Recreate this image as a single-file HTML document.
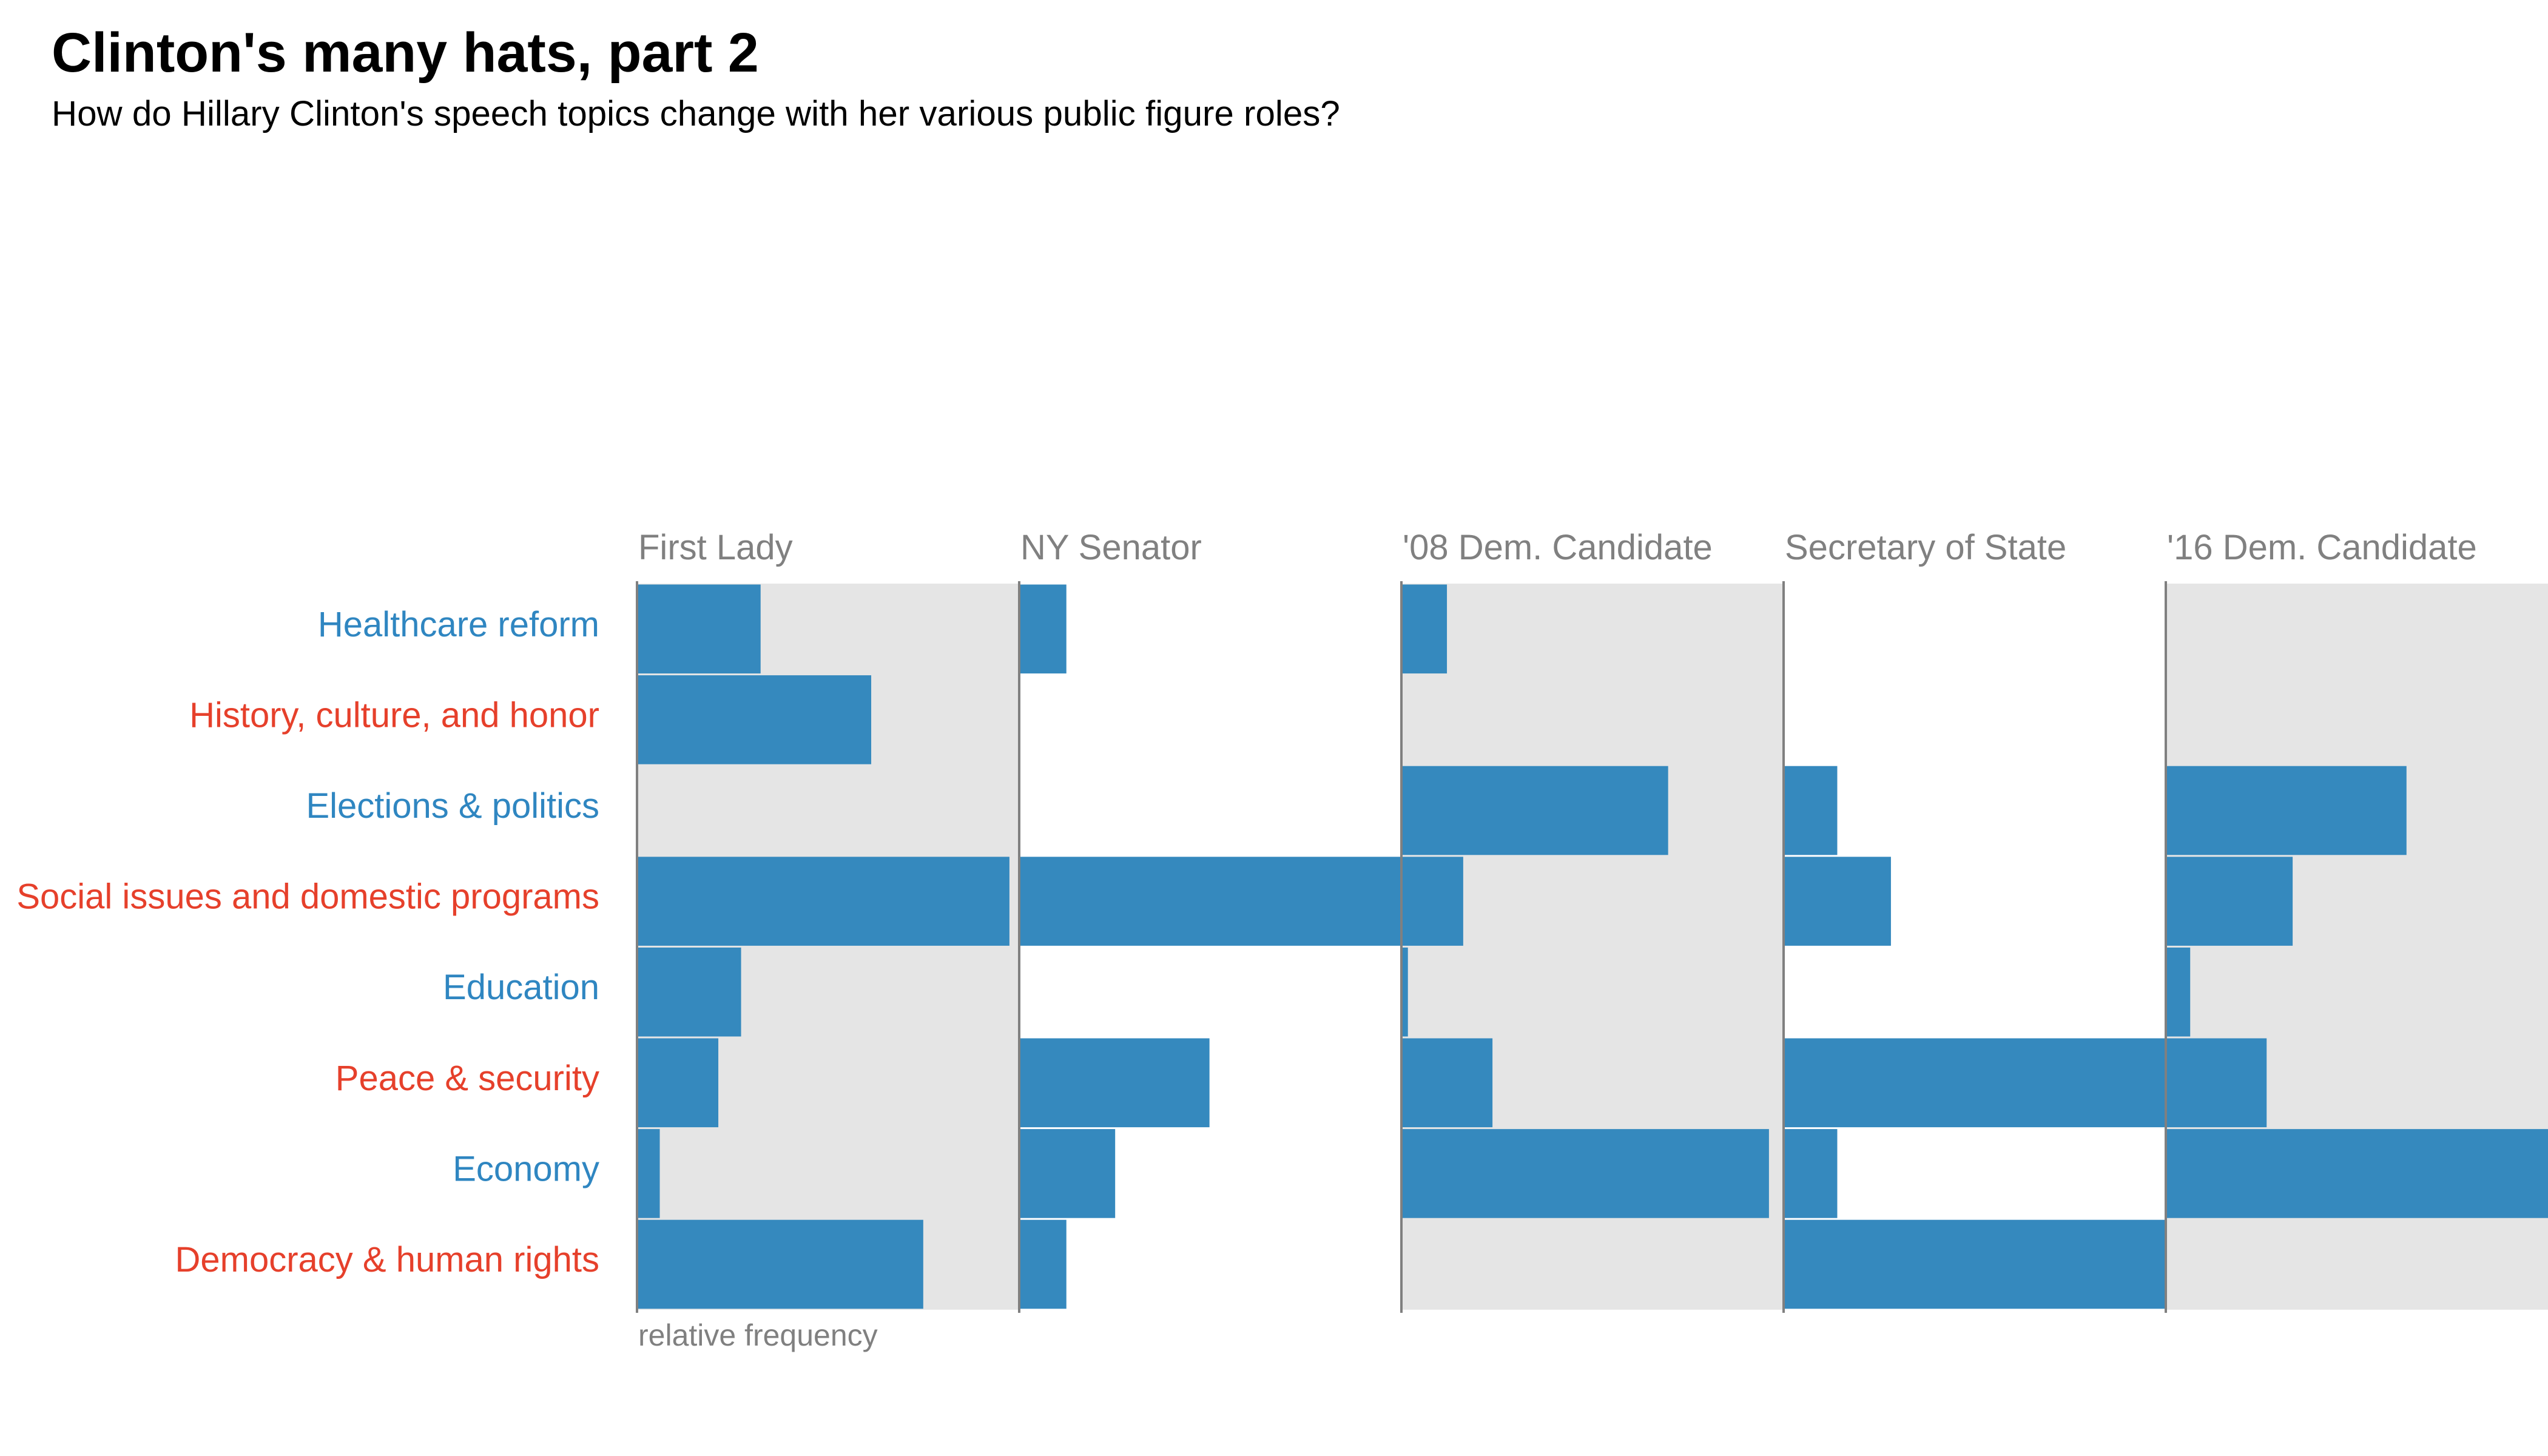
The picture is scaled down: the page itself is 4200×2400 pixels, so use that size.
<!DOCTYPE html>
<html><head><meta charset="utf-8">
<style>
html,body{margin:0;padding:0;background:#fff;}
svg{display:block;font-family:"Liberation Sans",sans-serif;}
</style></head>
<body>
<svg id="chart" width="4200" height="2400" viewBox="0 0 4200 2400" xmlns="http://www.w3.org/2000/svg">
<text x="85" y="118" font-size="91.5" font-weight="bold" fill="#000">Clinton's many hats, part 2</text>
<text x="85" y="207" font-size="58.3" fill="#000">How do Hillary Clinton's speech topics change with her various public figure roles?</text>
<g id="panels"></g>
<text x="1052" y="2218" font-size="50" fill="#808080">relative frequency</text>
</svg>
<script>
const roles = ["First Lady","NY Senator","'08 Dem. Candidate","Secretary of State","'16 Dem. Candidate"];
const topics = ["Healthcare reform","History, culture, and honor","Elections & politics","Social issues and domestic programs","Education","Peace & security","Economy","Democracy & human rights"];
const topicColors = ["#2f86c1","#e6402b","#2f86c1","#e6402b","#2f86c1","#e6402b","#2f86c1","#e6402b"];
const firstLady = [76,144,0,229,64,50,14,176];
const nySenator = [29,0,0,235,0,117,59,29];
const cand08 = [28,0,164,38,4,56,226,0];
const secState = [0,0,33,66,0,235,33,235];
const cand16 = [0,0,148,78,15,62,235,0];
const series = [firstLady,nySenator,cand08,secState,cand16];
const maxVal = 235;

const NS="http://www.w3.org/2000/svg";
const panelsG=document.getElementById('panels');
const plotLeft=1050, panelW=630, plotTop=962, rowH=149.6;
function xScale(p,v){return plotLeft+p*panelW+(v/maxVal)*panelW;}
function yScale(i){return plotTop+i*rowH;}
function mk(tag,attrs){const e=document.createElementNS(NS,tag);for(const k in attrs)e.setAttribute(k,attrs[k]);panelsG.appendChild(e);return e;}

topics.forEach((t,i)=>{
  const e=mk('text',{x:988,y:yScale(i)+rowH/2+12,'font-size':58,'text-anchor':'end',fill:topicColors[i]});
  e.textContent=t;
  
  
});

roles.forEach((r,p)=>{
  const x0=plotLeft+p*panelW;
  if(p%2===0){
    const bg=mk('rect',{x:x0,y:plotTop,width:panelW,height:rowH*8,fill:'#e5e5e5'});
    
    
  }
  const lab=mk('text',{x:x0+2,y:922,'font-size':58,fill:'#808080'});
  lab.textContent=r;
  
  
  series[p].forEach((v,i)=>{
    if(v<=0)return;
    const b=mk('rect',{x:x0,y:yScale(i)+1.5,width:xScale(p,v)-x0,height:rowH-3,fill:'#3589be'});
    
    
  });
});
roles.forEach((r,p)=>{
  const x0=plotLeft+p*panelW;
  const ln=mk('line',{x1:x0,x2:x0,y1:958,y2:2164,stroke:'#808080','stroke-width':4});
  
  
});
</script>
</body></html>
